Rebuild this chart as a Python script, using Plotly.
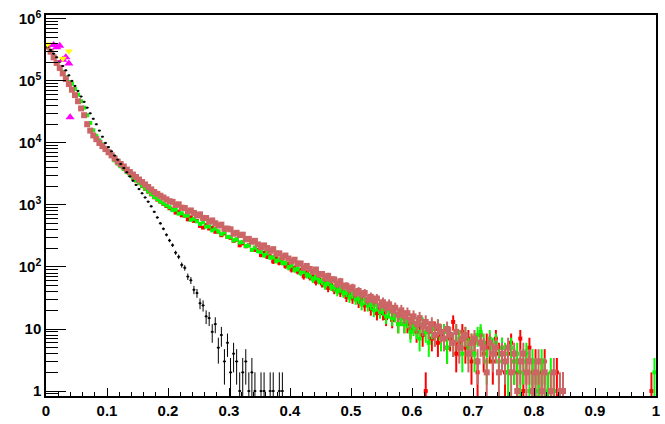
import numpy as np
import plotly.graph_objects as go

# ---------------- data (histogram bin contents, 200 bins on [0, 1]) ----------------
NBINS = 200
XMIN, XMAX = 0.0, 1.0

black_counts = [
    355000, 316000, 275000, 240000, 204000, 174000, 148000, 123000, 100000, 83000,
    69000, 56000, 46000, 37000, 30000, 24500, 20000, 15800, 12600, 10000,
    8550, 7320, 6260, 5370, 4590, 3930, 3360, 2880, 2460, 2110,
    1800, 1540, 1320, 1130, 950, 775, 628, 505, 412, 330,
    268, 225, 170, 146, 108, 97, 70, 61, 43, 38,
    26, 24, 16, 15, 9, 12, 5, 8, 3, 6,
    2, 4, 3, 1, 2, 3, 1, 2, 1, 0,
    1, 1, 0, 1, 1, 0, 1, 1, 0, 0,
] + [0] * 120

salmon_counts = [
    355000, 295000, 240000, 195000, 162000, 132000, 107000, 89000, 72000, 59000,
    47000, 36000, 28000, 20000, 15800, 13200, 11500, 10000, 8900, 7950,
    7080, 6300, 5620, 5010, 4570, 4170, 3720, 3390, 3090, 2820,
    2570, 2340, 2140, 1950, 1780, 1620, 1510, 1410, 1320, 1230,
    1150, 1122, 1000, 1025, 905, 892, 788, 816, 743, 676,
    706, 618, 615, 538, 563, 507, 466, 482, 414, 416,
    405, 344, 356, 328, 332, 279, 284, 255, 264, 231,
    208, 223, 202, 182, 194, 165, 166, 144, 153, 137,
    123, 131, 113, 114, 97, 104, 93, 84, 91, 76,
    77, 66, 72, 63, 63, 53, 59, 49, 50, 44,
    47, 38, 41, 36, 38, 30, 33, 29, 31, 24,
    27, 22, 25, 20, 22, 17, 20, 16, 18, 14,
    16, 12, 15, 11, 13, 10, 12, 8, 11, 9,
    7, 10, 8, 6, 9, 5, 7, 8, 4, 6,
    7, 3, 6, 5, 2, 6, 4, 5, 2, 4,
    3, 5, 2, 4, 1, 3, 4, 2, 3, 1,
    2, 3, 1, 2, 0, 1, 2, 0, 1, 1,
] + [0] * 30

green_counts = [
    350000, 300000, 245000, 200000, 168000, 140000, 115000, 96000, 90000, 74000,
    60000, 47000, 37000, 28000, 21000, 16000, 13000, 11000, 9500, 8300,
    7300, 6400, 5230, 4660, 4200, 3840, 3390, 3050, 2780, 2510,
    2260, 2040, 1840, 1660, 1500, 1345, 1240, 1140, 1056, 984,
    920, 824, 836, 723, 735, 669, 679, 575, 597, 544,
    493, 522, 447, 450, 389, 415, 374, 337, 360, 305,
    307, 268, 281, 248, 254, 218, 223, 189, 206, 180,
    175, 154, 167, 142, 144, 125, 132, 117, 116, 98,
    107, 90, 94, 80, 87, 74, 73, 63, 69, 60,
    59, 50, 57, 48, 47, 40, 45, 38, 39, 32,
    37, 30, 31, 25, 30, 24, 25, 20, 24, 19,
    21, 16, 19, 15, 17, 12, 15, 12, 14, 9,
    11, 10, 7, 12, 9, 6, 10, 8, 11, 7,
    9, 5, 8, 6, 9, 7, 4, 8, 5, 6,
    4, 8, 9, 6, 3, 7, 5, 6, 3, 5,
    4, 2, 5, 3, 4, 2, 3, 4, 1, 3,
    2, 1, 3, 2, 1, 2, 1, 0, 0, 0,
] + [0] * 28 + [0, 2]

red_counts = [
    352000, 293000, 243000, 197000, 160000, 134000, 108000, 88000, 73000, 58500,
    46500, 36500, 27500, 20500, 16000, 13100, 11400, 9900, 8800, 7900,
    7000, 6250, 5340, 4710, 4250, 3840, 3390, 3050, 2750, 2480,
    2240, 2010, 1820, 1640, 1480, 1330, 1220, 1130, 1040, 960,
    885, 845, 753, 779, 681, 665, 586, 633, 554, 551,
    460, 432, 472, 417, 427, 370, 372, 325, 348, 304,
    296, 264, 276, 224, 241, 216, 224, 188, 189, 186,
    156, 169, 147, 148, 123, 137, 117, 118, 104, 111,
    91, 96, 85, 88, 71, 81, 69, 70, 58, 63,
    54, 59, 46, 51, 43, 47, 39, 40, 33, 38,
    31, 33, 27, 31, 24, 28, 21, 25, 18, 22,
    18, 15, 20, 14, 17, 12, 15, 12, 12, 10,
    12, 9, 11, 8, 1, 9, 7, 10, 6, 8,
    9, 5, 7, 13, 4, 6, 9, 5, 7, 3,
    6, 2, 8, 4, 6, 5, 3, 7, 4, 5,
    2, 4, 6, 3, 2, 7, 1, 3, 5, 2,
    3, 1, 2, 3, 1, 0, 1, 2, 0, 1,
] + [0] * 28 + [1, 0]

# sparse point sets (x position, content)
magenta_x = [0.0125, 0.0175, 0.0225, 0.0275, 0.0325, 0.0375, 0.0395]
magenta_y = [380000, 350000, 370000, 220000, 240000, 190000, 26000]
yellow_x = [0.0025, 0.0275, 0.0375]
yellow_y = [390000, 230000, 300000]

y_tickvals = [1, 10, 100, 1000, 10000, 100000, 1000000]
y_ticktext = ["1", "10", "10<sup>2</sup>", "10<sup>3</sup>", "10<sup>4</sup>",
              "10<sup>5</sup>", "10<sup>6</sup>"]

# ---------------- figure ----------------
bin_w = (XMAX - XMIN) / NBINS
centers = XMIN + bin_w * (np.arange(NBINS) + 0.5)


def hist_trace(counts, color, msize, msymbol, lw):
    c = np.array(counts, dtype=float)
    m = c > 0
    x = centers[m]
    y = c[m]
    err = np.sqrt(y)
    errm = np.minimum(err, y - 0.5)
    return go.Scatter(
        x=x, y=y, mode="markers",
        marker=dict(color=color, size=msize, symbol=msymbol, line=dict(width=0)),
        error_y=dict(type="data", array=err, arrayminus=errm, symmetric=False,
                     color=color, thickness=lw, width=0),
        error_x=dict(type="constant", value=bin_w / 2, color=color,
                     thickness=lw, width=0),
        showlegend=False, hoverinfo="skip",
    )


fig = go.Figure()
fig.add_trace(hist_trace(red_counts, "#ff0000", 4, "square", 2))
fig.add_trace(hist_trace(green_counts, "#00ff00", 4, "square", 2))
fig.add_trace(hist_trace(salmon_counts, "#cc6666", 6, "square", 2))
fig.add_trace(hist_trace(black_counts, "#000000", 2, "square", 1))
fig.add_trace(go.Scatter(x=magenta_x, y=magenta_y, mode="markers",
                         marker=dict(color="#ff00ff", size=8, symbol="triangle-up"),
                         showlegend=False, hoverinfo="skip"))
fig.add_trace(go.Scatter(x=yellow_x, y=yellow_y, mode="markers",
                         marker=dict(color="#ffff00", size=7, symbol="triangle-down"),
                         showlegend=False, hoverinfo="skip"))

tickfont = dict(family="Liberation Sans, Arial, sans-serif", size=15,
                color="black", weight="bold")

fig.update_layout(
    width=665, height=424,
    margin=dict(l=46, r=5, t=15, b=18),
    paper_bgcolor="white", plot_bgcolor="white",
    showlegend=False,
    xaxis=dict(
        range=[0, 1], tick0=0, dtick=0.1,
        ticks="inside", ticklen=8, tickwidth=1, tickcolor="black",
        showline=True, linecolor="black", linewidth=1.5, mirror=True,
        showgrid=False, zeroline=False,
        minor=dict(ticks="inside", ticklen=4, tickwidth=1, tickcolor="black",
                   tickmode="linear", tick0=0, dtick=0.02, showgrid=False),
        tickfont=tickfont,
    ),
    yaxis=dict(
        type="log", range=[-0.08, 6.0625],
        tickmode="array", tickvals=y_tickvals, ticktext=y_ticktext,
        ticks="inside", ticklen=20, tickwidth=1, tickcolor="black",
        showline=True, linecolor="black", linewidth=1.5, mirror=True,
        showgrid=False, zeroline=False,
        minor=dict(ticks="inside", ticklen=12, tickwidth=1, tickcolor="black",
                   tickmode="linear", dtick="D1", showgrid=False),
        tickfont=tickfont,
    ),
)

fig.write_html("out.html")
